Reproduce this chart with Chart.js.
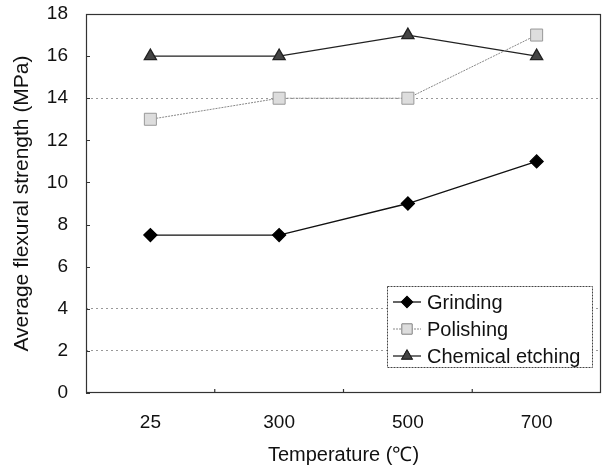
<!DOCTYPE html>
<html lang="en">
<head>
    <meta charset="UTF-8">
    <title>Flexural strength</title>
    <script src="https://cdn.jsdelivr.net/npm/chart.js@4.4.1/dist/chart.umd.min.js"></script>
    <style>
        body { margin: 0; background: #fff; }
    </style>
</head>
<body>
    <canvas id="dataChart" width="603" height="471"></canvas>

    <script>
        const temperatures = ['25', '300', '500', '700'];
        const grinding = [7.5, 7.5, 9, 11];
        const polishing = [13, 14, 14, 17];
        const etching = [16, 16, 17, 16];
        const yTicks = [0, 2, 4, 6, 8, 10, 12, 14, 16, 18];
        const gridShown = [2, 4, 14];

        const FONT = '"Liberation Sans", Arial, sans-serif';

        // frame around the plot area, with small inward ticks
        const frame = {
            id: 'frame',
            afterDatasetsDraw(chart) {
                const a = chart.chartArea, ctx = chart.ctx;
                ctx.save();
                ctx.strokeStyle = '#333';
                ctx.lineWidth = 1.2;
                ctx.strokeRect(a.left + 0.5, a.top + 0.5, a.right - a.left - 1, a.bottom - a.top - 1);
                const xs = chart.scales.x;
                for (let i = 1; i < temperatures.length; i++) {
                    const x = (xs.getPixelForTick(i - 1) + xs.getPixelForTick(i)) / 2;
                    ctx.beginPath();
                    ctx.moveTo(x, a.bottom);
                    ctx.lineTo(x, a.bottom - 4);
                    ctx.stroke();
                }
                const ys = chart.scales.y;
                ctx.lineWidth = 1;
                yTicks.forEach(v => {
                    const y = Math.round(ys.getPixelForValue(v)) + 0.5;
                    ctx.beginPath();
                    ctx.moveTo(a.left, y);
                    ctx.lineTo(a.left + 4, y);
                    ctx.stroke();
                });
                ctx.restore();
            }
        };

        // boxed legend in the lower right corner
        const boxLegend = {
            id: 'boxLegend',
            afterDraw(chart) {
                const ctx = chart.ctx;
                const a = chart.chartArea;
                const x0 = a.right - 214, y0 = a.bottom - 107, w = 205, h = 81;
                ctx.save();
                ctx.fillStyle = '#fff';
                ctx.fillRect(x0, y0, w, h);
                ctx.strokeStyle = '#444';
                ctx.lineWidth = 1;
                ctx.setLineDash([2, 1]);
                ctx.strokeRect(x0 + 0.5, y0 + 0.5, w, h);
                ctx.setLineDash([]);
                ctx.font = '20px ' + FONT;
                ctx.textBaseline = 'middle';
                chart.data.datasets.forEach((ds, i) => {
                    const y = y0 + 16 + i * 27;
                    ctx.strokeStyle = ds.borderColor;
                    ctx.lineWidth = ds.borderWidth;
                    ctx.setLineDash(ds.borderDash || []);
                    ctx.beginPath();
                    ctx.moveTo(x0 + 6, y);
                    ctx.lineTo(x0 + 34, y);
                    ctx.stroke();
                    ctx.setLineDash([]);
                    Chart.helpers.drawPoint(ctx, {
                        pointStyle: ds.pointStyle,
                        radius: ds.pointRadius * 0.85,
                        borderWidth: 1
                    }, x0 + 20, y);
                    ctx.fillStyle = ds.pointBackgroundColor;
                    ctx.strokeStyle = ds.pointBorderColor;
                    ctx.lineWidth = 1;
                    ctx.fill();
                    ctx.stroke();
                    ctx.fillStyle = '#111';
                    ctx.fillText(ds.label, x0 + 40, y + 1);
                });
                ctx.restore();
            }
        };

        const ctx = document.getElementById('dataChart').getContext('2d');
        const chart = new Chart(ctx, {
            type: 'line',
            data: {
                labels: temperatures,
                datasets: [{
                    label: 'Grinding',
                    data: grinding,
                    borderColor: '#111',
                    borderWidth: 1.3,
                    pointStyle: 'rectRot',
                    pointRadius: 6.5,
                    pointBackgroundColor: '#000',
                    pointBorderColor: '#000'
                }, {
                    label: 'Polishing',
                    data: polishing,
                    borderColor: '#888',
                    borderWidth: 1,
                    borderDash: [2, 1],
                    pointStyle: 'rect',
                    pointRadius: 8.5,
                    pointBackgroundColor: '#ddd',
                    pointBorderColor: '#999'
                }, {
                    label: 'Chemical etching',
                    data: etching,
                    borderColor: '#222',
                    borderWidth: 1.3,
                    pointStyle: 'triangle',
                    pointRadius: 7,
                    pointBackgroundColor: '#444',
                    pointBorderColor: '#222'
                }]
            },
            options: {
                responsive: false,
                animation: false,
                layout: { autoPadding: false, padding: { top: 14, right: 2, left: 0, bottom: 0 } },
                plugins: {
                    legend: { display: false },
                    tooltip: { enabled: false }
                },
                scales: {
                    x: {
                        offset: true,
                        grid: { display: false, drawTicks: false },
                        border: { display: false },
                        ticks: {
                            color: '#111',
                            font: { family: FONT, size: 19 },
                            padding: 18
                        },
                        title: {
                            display: true,
                            text: 'Temperature (℃)',
                            color: '#111',
                            font: { family: FONT, size: 20 },
                            padding: { top: 4, bottom: 4 }
                        },
                        afterFit(scale) {
                            scale.height = 78;
                            scale.paddingLeft = 0;
                            scale.paddingRight = 0;
                        }
                    },
                    y: {
                        min: 0,
                        max: 18,
                        afterBuildTicks(scale) {
                            scale.ticks = yTicks.map(v => ({ value: v }));
                        },
                        grid: {
                            drawTicks: false,
                            color: c => gridShown.includes(c.tick.value) ? '#999' : 'rgba(0,0,0,0)',
                            lineWidth: 1
                        },
                        border: { display: false, dash: [2, 3] },
                        ticks: {
                            color: '#111',
                            font: { family: FONT, size: 19 },
                            padding: 18
                        },
                        title: {
                            display: true,
                            text: 'Average flexural strength (MPa)',
                            color: '#111',
                            font: { family: FONT, size: 21 },
                            padding: { top: 10, bottom: 4 }
                        },
                        afterFit(scale) {
                            scale.width = 86;
                            scale.paddingTop = 0;
                            scale.paddingBottom = 0;
                        }
                    }
                }
            },
            plugins: [frame, boxLegend]
        });
    </script>
</body>
</html>
